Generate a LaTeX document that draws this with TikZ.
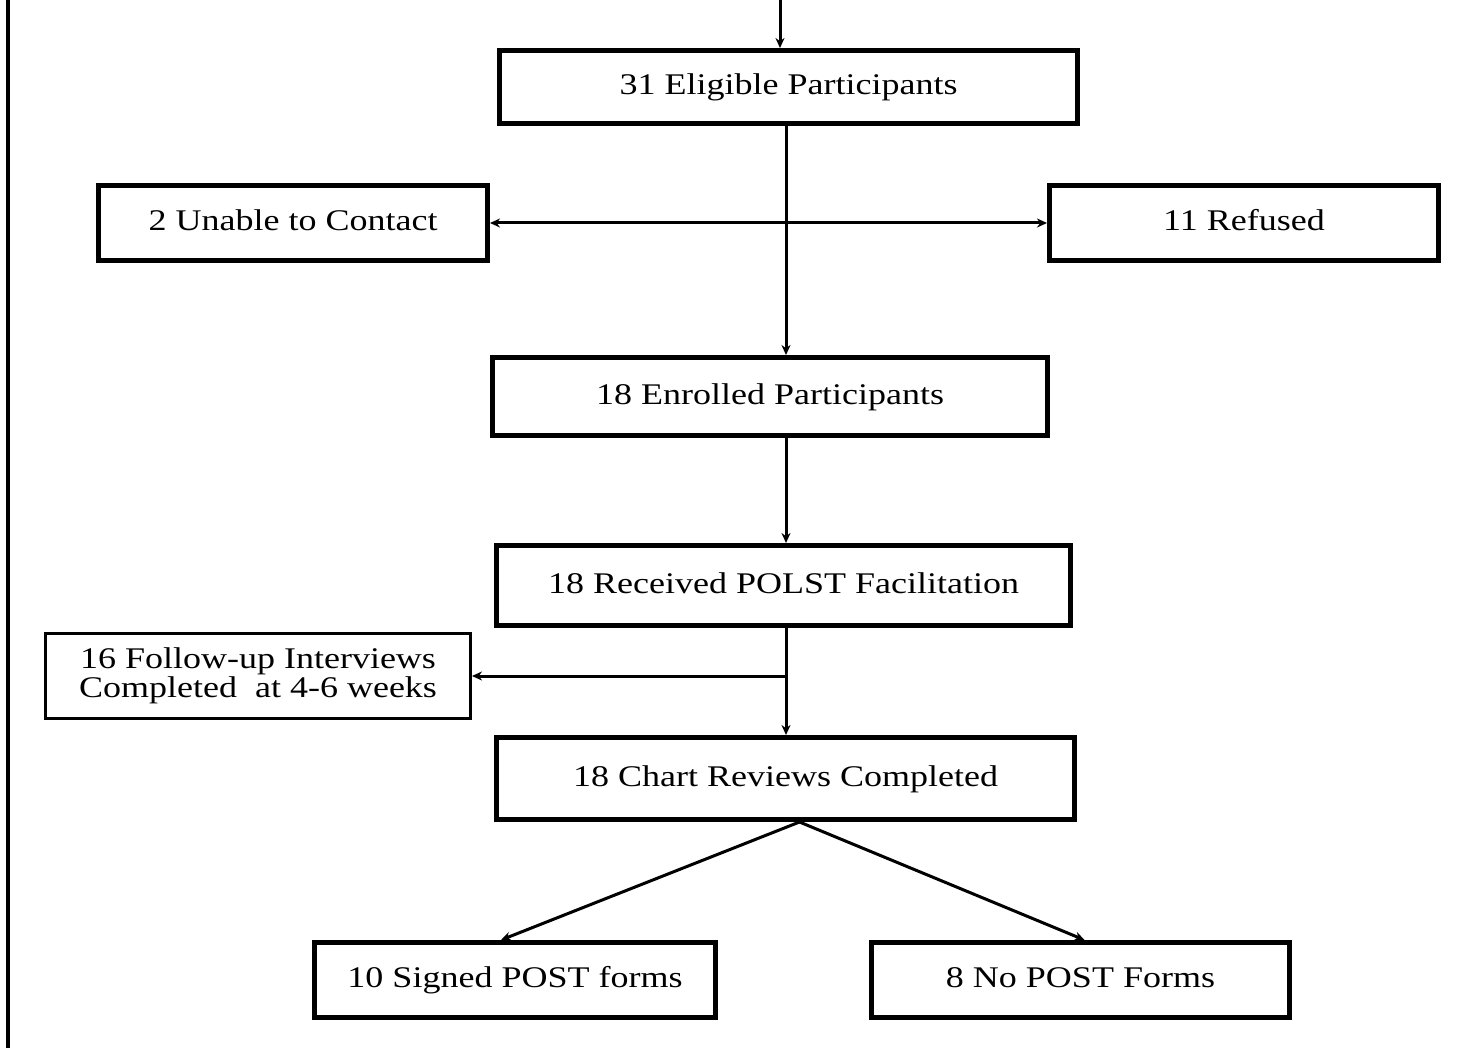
\documentclass[tikz,border=0pt]{standalone}
\usepackage{fontspec}
\setmainfont{Liberation Serif}[FakeStretch=1.2]
\usetikzlibrary{arrows.meta,positioning,calc}

\begin{document}
\begin{tikzpicture}[
  x=0.5pt, y=-0.5pt,
  >={Stealth[length=5pt,width=4.5pt]},
  base/.style={draw, rectangle, align=center, inner sep=0pt,
               font=\fontsize{15}{14.5}\selectfont},
  box/.style={base, line width=2.5pt, text height=10.5pt, text depth=3pt},
  thinbox/.style={base, line width=1.5pt},
  link/.style={->, line width=1.5pt}
]
\useasboundingbox (0,0) rectangle (1460,1048);

% page edge on the left
\draw[line width=2pt] (8,0) -- (8,1048);

\node[box, minimum width=289pt, minimum height=36.5pt] (elig) at (788.5,87) {31 Eligible Participants};

\node[box, minimum width=194.5pt, minimum height=37.5pt] (unable)  at (293,223)  {2 Unable to Contact};
\node[box, minimum width=194.5pt, minimum height=37.5pt] (refused) at (1244,223) {11 Refused};

\node[box, minimum width=277.5pt, minimum height=39pt] (enrolled) at (770,396.5) {18 Enrolled Participants};
\node[box, minimum width=287pt, minimum height=40pt] (received) at (783.5,585.5) {18 Received POLST Facilitation};

\node[thinbox, minimum width=212.5pt, minimum height=42.5pt] (follow) at (258,676)
  {16 Follow-up Interviews\\Completed~ at 4-6 weeks};

\node[box, minimum width=289pt, minimum height=41pt] (chart) at (785.5,778.5) {18 Chart Reviews Completed};

\node[box, minimum width=200.5pt, minimum height=37.5pt] (signed) at (515,980)  {10 Signed POST forms};
\node[box, minimum width=209pt, minimum height=37.5pt] (nopost) at (1080.5,980) {8 No POST Forms};

\coordinate (top)   at (780,0);
\coordinate (trunk) at (786,0);
\coordinate (split) at (trunk |- unable.east);
\coordinate (fork)  at (trunk |- follow.east);
\coordinate (fan)   at ([xshift=7pt]chart.south);

\draw[link] (top) -- (top |- elig.north);
\draw[link] (trunk |- elig.south) -- (trunk |- enrolled.north);
\draw[link] (split) -- (unable.east);
\draw[link] (split) -- (refused.west);
\draw[link] (trunk |- enrolled.south) -- (trunk |- received.north);
\draw[link] (trunk |- received.south) -- (trunk |- chart.north);
\draw[link] (fork) -- (follow.east);
\draw[link] (fan) -- ([xshift=-7pt]signed.north);
\draw[link] (fan) -- ([xshift=2pt]nopost.north);
\end{tikzpicture}
\end{document}
